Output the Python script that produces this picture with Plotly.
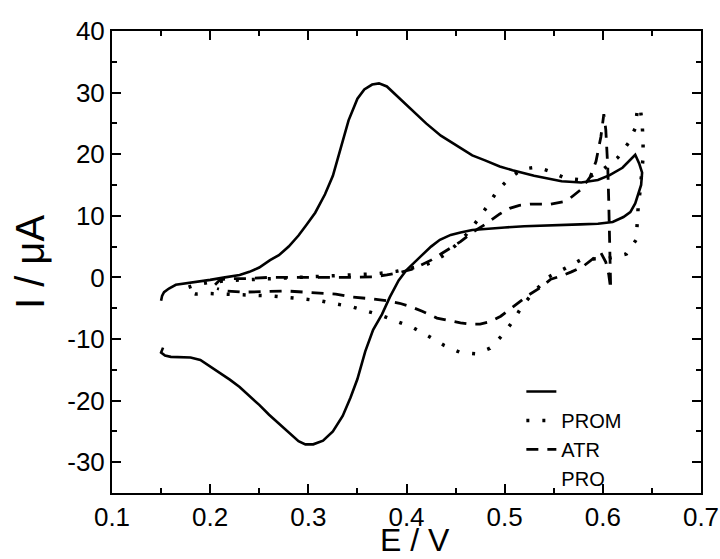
import plotly.graph_objects as go

# ---- data ----
solid_x = [0.150, 0.151, 0.153, 0.158, 0.165, 0.175, 0.190, 0.200, 0.215, 0.230, 0.240, 0.250, 0.261, 0.270,
           0.280, 0.290, 0.298, 0.307, 0.317, 0.325, 0.333, 0.341, 0.350, 0.357, 0.365, 0.372, 0.380, 0.390,
           0.400, 0.410, 0.420, 0.435, 0.450, 0.467, 0.480, 0.495, 0.508, 0.530, 0.558, 0.578, 0.595, 0.607,
           0.620, 0.628, 0.633,
           0.637, 0.640, 0.639, 0.636, 0.633, 0.628, 0.621, 0.610, 0.595, 0.577, 0.550, 0.520, 0.500, 0.480,
           0.467,
           0.455, 0.445, 0.434, 0.425, 0.415, 0.407, 0.400, 0.392, 0.383, 0.375, 0.366, 0.358, 0.350, 0.343,
           0.335, 0.325, 0.315, 0.305, 0.297, 0.290, 0.280, 0.270, 0.260, 0.250, 0.240, 0.230, 0.220, 0.210,
           0.200, 0.190, 0.180, 0.170, 0.160, 0.154, 0.150, 0.152]
solid_y = [-3.8, -3.0, -2.4, -1.8, -1.2, -1.0, -0.6, -0.4, 0.0, 0.4, 0.9, 1.6, 2.8, 3.6,
           5.0, 6.8, 8.5, 10.5, 13.5, 16.5, 21.0, 25.5, 29.0, 30.5, 31.3, 31.5, 31.0, 29.5,
           28.0, 26.5, 25.0, 23.0, 21.5, 19.8, 19.0, 18.0, 17.4, 16.5, 15.6, 15.4, 15.8, 16.6,
           17.8, 19.0, 19.9,
           18.5, 17.0, 15.0, 13.5, 12.0, 10.6, 9.8, 9.0, 8.7, 8.6, 8.5, 8.3, 8.1, 7.9,
           7.7,
           7.3, 6.9, 6.1, 5.0, 3.5, 2.2, 1.2, -0.5, -3.2, -6.0, -8.5, -12.0, -16.5, -19.5,
           -22.5, -25.0, -26.5, -27.1, -27.1, -26.6, -25.2, -23.7, -22.3, -20.7, -19.3, -17.8, -16.6, -15.5,
           -14.4, -13.4, -13.0, -12.9, -12.9, -12.7, -12.2, -11.4]

prom_x = [0.178, 0.185, 0.200, 0.220, 0.250, 0.280, 0.310, 0.340, 0.370, 0.390, 0.405, 0.419, 0.430, 0.440,
          0.450, 0.460, 0.470, 0.477, 0.483, 0.493, 0.505, 0.518, 0.533, 0.548, 0.562, 0.575, 0.584, 0.600,
          0.615, 0.626, 0.633, 0.635, 0.638, 0.640, 0.641, 0.641, 0.640, 0.638, 0.636, 0.635, 0.634, 0.624,
          0.606, 0.590, 0.577, 0.562, 0.545, 0.530, 0.518, 0.508, 0.497, 0.485, 0.471, 0.455, 0.438, 0.423,
          0.407, 0.391, 0.375, 0.360, 0.345, 0.328, 0.312, 0.295, 0.278, 0.263, 0.244, 0.220, 0.197, 0.185,
          0.178]
prom_y = [-1.6, -1.2, -0.8, -0.5, -0.3, -0.1, 0.1, 0.3, 0.6, 1.0, 1.5, 2.0, 2.8, 3.8,
          5.2, 6.8, 8.8, 10.3, 11.7, 14.2, 16.1, 17.6, 17.9, 17.1, 16.1, 15.9, 16.1, 17.5,
          19.4, 21.8, 24.2, 27.0, 27.7, 25.0, 22.3, 19.5, 17.0, 14.1, 11.4, 8.8, 6.1, 3.8,
          3.1, 3.0, 2.8, 1.5, 0.1, -2.3, -4.6, -7.2, -9.5, -11.5, -12.4, -12.2, -11.0, -9.6,
          -8.2, -7.2, -6.2, -5.5, -4.8, -4.3, -3.8, -3.5, -3.2, -3.0, -2.9, -2.8, -2.6, -2.7,
          -2.4]

atr_x = [0.205, 0.210, 0.220, 0.237, 0.260, 0.280, 0.300, 0.323, 0.345, 0.366, 0.380, 0.393, 0.405, 0.415,
         0.425, 0.435, 0.445, 0.455, 0.467, 0.482, 0.495, 0.505, 0.515, 0.526, 0.547, 0.560, 0.567, 0.578,
         0.587, 0.593, 0.598, 0.601, 0.603, 0.605, 0.606, 0.607, 0.608, 0.608,
         0.606, 0.603, 0.598, 0.590, 0.580, 0.568, 0.557, 0.547, 0.537, 0.525, 0.513, 0.503, 0.496, 0.485,
         0.475, 0.465, 0.455, 0.443, 0.431, 0.416, 0.405, 0.393, 0.380, 0.366, 0.345, 0.328, 0.310, 0.297,
         0.277, 0.257, 0.233, 0.215, 0.207]
atr_y = [-1.2, -0.4, -0.2, -0.2, 0.0, 0.0, -0.1, 0.0, 0.0, 0.1, 0.4, 0.8, 1.3, 2.0,
         2.8, 3.8, 4.8, 5.8, 7.3, 8.8, 10.3, 11.2, 11.7, 11.9, 11.9, 12.3, 12.9, 14.3,
         16.3, 18.8, 22.8, 26.5, 24.0, 18.0, 12.5, 7.0, 2.0, -1.9,
         0.5, 2.5, 4.0, 3.0, 1.8, 0.9, 0.2, -0.3, -1.6, -2.8, -4.2, -5.5, -6.3, -7.2,
         -7.6, -7.6, -7.4, -7.0, -6.6, -5.5, -4.8, -4.2, -3.8, -3.5, -3.2, -2.7, -2.5, -2.4,
         -2.2, -2.3, -2.4, -2.2, -1.8]

x_ticks = [0.1, 0.2, 0.3, 0.4, 0.5, 0.6, 0.7]
y_ticks = [-30, -20, -10, 0, 10, 20, 30, 40]

FONT = "Liberation Sans, Arial, sans-serif"

fig = go.Figure()
fig.add_trace(go.Scatter(x=solid_x, y=solid_y, mode="lines", name=" ",
                         line=dict(color="black", width=2.6)))
fig.add_trace(go.Scatter(x=prom_x, y=prom_y, mode="lines", name="PROM",
                         line=dict(color="black", width=3.5, dash="3px,13px")))
fig.add_trace(go.Scatter(x=atr_x, y=atr_y, mode="lines", name="ATR",
                         line=dict(color="black", width=2.8, dash="12px,9px")))
fig.add_trace(go.Scatter(x=[None], y=[None], mode="lines", name="PRO",
                         line=dict(color="rgba(0,0,0,0)", width=1)))

axis_common = dict(
    showgrid=False, zeroline=False, showline=True, linecolor="black", linewidth=2,
    mirror="ticks", ticks="inside", ticklen=9, tickwidth=1.5, tickcolor="black",
    tickfont=dict(family=FONT, size=26, color="black"), automargin=False,
    ticklabeloverflow="allow",
)

fig.update_xaxes(range=[0.1, 0.7], tickvals=x_ticks, ticktext=[str(v) for v in x_ticks],
                 minor=dict(ticks="inside", ticklen=5, tickwidth=1.5, tickcolor="black", dtick=0.05,
                            tick0=0.1, showgrid=False),
                 **axis_common)
fig.update_yaxes(range=[-35, 40], tickvals=y_ticks, ticktext=[str(v) for v in y_ticks],
                 minor=dict(ticks="inside", ticklen=5, tickwidth=1.5, tickcolor="black", dtick=5,
                            tick0=-35, showgrid=False),
                 title=dict(text="I / μA", font=dict(family=FONT, size=40, color="black"), standoff=10),
                 **axis_common)

# x-axis title placed as paper annotation, resting on the bottom edge of the page
fig.add_annotation(text="E / V", xref="paper", yref="paper", x=0.515, y=-0.1429,
                   xanchor="center", yanchor="bottom", showarrow=False,
                   font=dict(family=FONT, size=32, color="black"), borderpad=0)

fig.update_layout(
    width=720, height=559,
    margin=dict(l=112, r=19, t=31, b=66),
    paper_bgcolor="white", plot_bgcolor="white",
    showlegend=True,
    legend=dict(x=0.695, y=0.262, xanchor="left", yanchor="top",
                bgcolor="rgba(0,0,0,0)", borderwidth=0,
                font=dict(family=FONT, size=20, color="black"),
                tracegroupgap=0, itemwidth=30),
)

fig.write_html("out.html")
